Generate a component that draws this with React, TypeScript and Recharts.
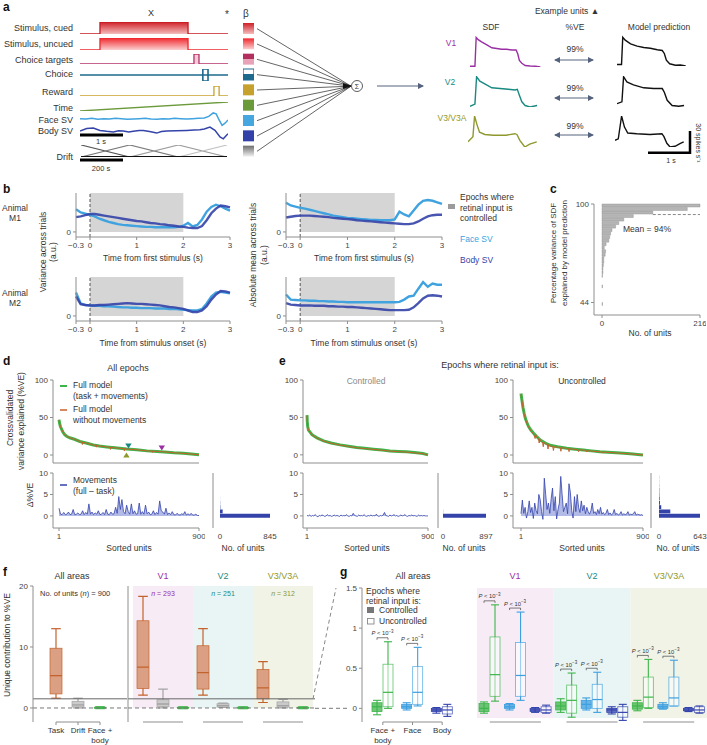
import React from 'react';
import {
  ComposedChart,
  LineChart,
  BarChart,
  Line,
  Area,
  Bar,
  Scatter,
  Cell,
  XAxis,
  YAxis,
  ReferenceArea,
  ReferenceLine,
} from 'recharts';

const FONT = '"Liberation Sans", Arial, sans-serif';
const INK = '#333';
const AXIS = '#8e8e8e';
const FACE = '#40a3df';
const BODY = '#3443a9';
const GREEN = '#3db54a';
const ORANGE = '#c8602b';
const V1C = '#9a2fa4';
const V2C = '#198a81';
const V3C = '#8f982d';
const tick8 = { fontSize: 8, fill: '#444', fontFamily: FONT };
const minus = (v: number) => String(v).replace('-', '\u2212');

// ---- panel a: regressors ----
const regressors = ['Stimulus, cued', 'Stimulus, uncued', 'Choice targets', 'Choice', 'Reward', 'Time', 'Face SV', 'Body SV', 'Drift'];
const stimT = [0, 13.5, 13.5, 73, 73, 100];
const stimV = [0, 0, 1, 1, 0, 0];
const targetT = [0, 77, 77, 80.4, 80.4, 100];
const targetV = [0, 0, 1, 1, 0, 0];
const choiceT = [0, 83, 83, 86.5, 86.5, 83, 83, 86.5, 100];
const choiceV = [0.5, 0.5, 1, 1, 0, 0, 0.5, 0.5, 0.5];
const rewardT = [0, 90.5, 90.5, 94, 94, 100];
const rewardV = [0, 0, 1, 1, 0, 0];
const timeT = [0, 100];
const timeV = [0, 1];
const faceT = [0, 4, 8, 12, 16, 20, 24, 28, 32, 36, 40, 44, 48, 52, 56, 60, 64, 68, 72, 76, 80, 84, 87, 90, 92, 94, 96, 98, 100];
const faceV = [0.1, 0, 0.2, -0.1, 0.1, 0, 0.2, 0.1, -0.1, 0, 0.1, 0.2, 0, -0.1, 0.1, 0, 0.2, 0.1, 0, 0.1, 0.2, 0.3, 0.8, 1.9, 1.6, -0.3, -2.0, -1.3, -0.3];
const bodyT = [0, 4.5, 9, 13.5, 18, 22.5, 26, 29.3, 33, 36, 40, 42.8, 47, 51.8, 55, 58.6, 65, 72, 77, 81, 84, 87.8, 91.2, 94.6, 96.8, 100];
const bodyV = [0, 0.8, 1.0, 0.2, -0.1, -0.3, 0.1, 0, -0.3, -0.1, 0.2, 0.2, -0.2, -0.7, -0.2, 0, 0.1, 0.2, 0.3, 0.4, 0.7, 1.3, 0.2, -2.0, -2.6, -0.9];
const driftNodes = [0, 1, 2, 3];
const driftBasis = [
  [1, 0, 0, 0],
  [0, 1, 0, 0],
  [0, 0, 1, 0],
  [0, 0, 0, 1],
];
const driftColors = ['#555', '#7a7a7a', '#9d9d9d', '#c2c2c2'];
const betaFills = ['url(#gCued)', 'url(#gUncued)', 'url(#gTarget)', 'url(#gChoice)', '#c6a12e', '#6a9a3a', '#46a6e0', '#3342a8', 'url(#gDrift)'];
const sumNode = 3.75;

// example units (time in s, rate in spikes/s)
const v1SdfT = [0, 0.12, 0.15, 0.2, 0.28, 0.41, 0.53, 0.65, 0.77, 0.89, 1.02, 1.12, 1.16, 1.2, 1.26, 1.34, 1.46, 1.59, 1.71];
const v1SdfV = [1, 1, 40, 37, 34, 30, 26, 25, 24, 24, 23, 23, 18, 9, 5, 2, 1.4, 1, 0];
const v1ModT = [0, 0.11, 0.14, 0.2, 0.33, 0.49, 0.65, 0.81, 0.98, 1.1, 1.15, 1.2, 1.28, 1.42, 1.54, 1.67];
const v1ModV = [2, 2, 39, 35, 30, 27, 25, 24, 22, 21, 17, 8, 3, 1, 1.4, 0];
const v2SdfT = [0, 0.12, 0.16, 0.24, 0.37, 0.53, 0.73, 0.93, 1.1, 1.15, 1.2, 1.26, 1.34, 1.46, 1.63];
const v2SdfV = [1, 4, 41, 35, 31, 26, 25, 24, 23, 24, 16, 7, 2, 0, 2];
const v2ModT = [0, 0.12, 0.16, 0.24, 0.4, 0.65, 0.89, 1.1, 1.15, 1.22, 1.34, 1.5, 1.63];
const v2ModV = [4.5, 7, 41, 34, 30, 26, 25, 25, 20, 9, 2, 1, 2];
const v3SdfT = [0, 0.12, 0.16, 0.22, 0.28, 0.41, 0.61, 0.93, 1.14, 1.19, 1.26, 1.38, 1.5, 1.67];
const v3SdfV = [7, 14, 42, 30, 20, 17, 16, 16, 18, 17, 9, 0, 4, 7];
const v3ModT = [0, 0.08, 0.16, 0.23, 0.31, 0.53, 0.85, 1.14, 1.19, 1.26, 1.34, 1.46, 1.59, 1.67];
const v3ModV = [9, 11, 42, 27, 19, 18, 17, 18, 14, 5, 0, 1, 5, 7];

// ---- panel b ----
const bTimes = [-0.3, -0.2, -0.1, 0, 0.1, 0.2, 0.3, 0.4, 0.5, 0.6, 0.7, 0.8, 0.9, 1.0, 1.1, 1.2, 1.3, 1.4, 1.5, 1.6, 1.7, 1.8, 1.9, 2.0, 2.1, 2.2, 2.3, 2.4, 2.5, 2.6, 2.7, 2.8, 2.9, 3.0];
const m1VarFace = [0.58, 0.5, 0.47, 0.44, 0.4, 0.34, 0.3, 0.26, 0.23, 0.2, 0.18, 0.17, 0.16, 0.15, 0.14, 0.13, 0.13, 0.12, 0.12, 0.12, 0.12, 0.12, 0.13, 0.16, 0.23, 0.14, 0.18, 0.32, 0.52, 0.64, 0.7, 0.66, 0.6, 0.55];
const m1VarBody = [0.38, 0.4, 0.43, 0.46, 0.46, 0.44, 0.42, 0.4, 0.38, 0.36, 0.34, 0.32, 0.3, 0.28, 0.27, 0.25, 0.23, 0.22, 0.2, 0.19, 0.17, 0.16, 0.14, 0.13, 0.11, 0.1, 0.1, 0.15, 0.3, 0.48, 0.6, 0.68, 0.66, 0.63];
const m1MeanFace = [0.75, 0.68, 0.65, 0.62, 0.6, 0.57, 0.54, 0.51, 0.48, 0.45, 0.42, 0.4, 0.38, 0.36, 0.35, 0.34, 0.33, 0.32, 0.31, 0.31, 0.3, 0.3, 0.3, 0.32, 0.52, 0.45, 0.4, 0.55, 0.7, 0.8, 0.82, 0.8, 0.76, 0.72];
const m1MeanBody = [0.37, 0.39, 0.41, 0.42, 0.42, 0.42, 0.41, 0.4, 0.39, 0.38, 0.36, 0.35, 0.34, 0.33, 0.32, 0.3, 0.29, 0.28, 0.27, 0.26, 0.25, 0.24, 0.23, 0.22, 0.21, 0.2, 0.2, 0.22, 0.27, 0.34, 0.4, 0.43, 0.44, 0.44];
const m2VarFace = [0.6, 0.32, 0.28, 0.27, 0.26, 0.26, 0.25, 0.25, 0.24, 0.23, 0.22, 0.22, 0.21, 0.21, 0.2, 0.2, 0.2, 0.19, 0.19, 0.19, 0.18, 0.18, 0.17, 0.16, 0.15, 0.14, 0.14, 0.18, 0.32, 0.5, 0.6, 0.62, 0.6, 0.58];
const m2VarBody = [0.5, 0.3, 0.28, 0.27, 0.27, 0.28, 0.28, 0.29, 0.3, 0.31, 0.32, 0.33, 0.32, 0.31, 0.31, 0.3, 0.29, 0.28, 0.27, 0.25, 0.23, 0.22, 0.2, 0.18, 0.14, 0.1, 0.1, 0.14, 0.25, 0.42, 0.55, 0.64, 0.63, 0.6];
const m2MeanFace = [0.55, 0.42, 0.41, 0.4, 0.4, 0.39, 0.39, 0.38, 0.38, 0.37, 0.37, 0.36, 0.36, 0.35, 0.35, 0.35, 0.35, 0.35, 0.35, 0.35, 0.35, 0.35, 0.35, 0.35, 0.36, 0.42, 0.5, 0.52, 0.7, 0.87, 0.75, 0.83, 0.8, 0.8];
const m2MeanBody = [0.33, 0.29, 0.28, 0.27, 0.27, 0.27, 0.26, 0.26, 0.26, 0.25, 0.25, 0.24, 0.24, 0.23, 0.23, 0.22, 0.21, 0.2, 0.19, 0.18, 0.17, 0.16, 0.15, 0.15, 0.15, 0.15, 0.16, 0.22, 0.33, 0.45, 0.52, 0.53, 0.52, 0.5];

// ---- panel c ----
const cBins = [99, 97, 95, 93, 91, 89, 87, 85, 83, 81, 79, 77, 75, 73, 71, 69, 67, 65, 63, 61, 59, 57, 55, 53, 51, 49, 47, 45, 43];
const cCounts = [216, 188, 112, 69, 48, 37, 30, 22, 19, 17, 15, 9, 5, 8, 7, 4, 4, 3, 2, 2, 1, 0, 0, 1, 0, 0, 0, 0, 1];

// ---- panels d, e ----
const dGreenU = [1, 5, 10, 16, 25, 38, 50, 70, 100, 135, 175, 221, 260, 307, 360, 436, 500, 566, 630, 700, 738, 800, 850, 900];
const dGreenV = [47, 42, 38, 35, 31, 27, 25, 23, 21, 18, 16, 13.3, 12, 10.8, 9.6, 8, 7, 5.5, 4.8, 3.8, 3, 2.2, 1.3, 0.3];
const dOrangeU = [1, 5, 10, 16, 25, 38, 50, 70, 100, 135, 150, 151, 152, 175, 221, 240, 241, 242, 260, 307, 330, 331, 332, 360, 420, 421, 422, 436, 500, 566, 600, 601, 602, 630, 700, 738, 800, 850, 900];
const dOrangeV = [47, 42, 38, 35, 31, 27, 25, 23, 21, 18, 17, 14, 17, 16, 13.3, 12.8, 10.5, 12.8, 12, 10.8, 10.2, 7.5, 10.2, 9.6, 8.3, 5.5, 8.3, 8, 7, 5.5, 5.2, 3.5, 5.2, 4.8, 3.8, 3, 2.2, 1.3, 0.3];
const ecGreenU = [1, 3, 6, 12, 21, 38, 75, 124, 180, 247, 310, 370, 430, 494, 560, 617, 680, 740, 800, 863, 900];
const ecGreenV = [53, 45, 38, 33, 31, 27, 22.7, 18.7, 15.8, 13.3, 11.5, 9.8, 8.7, 7.6, 6.4, 5.3, 4.6, 4, 3, 1.8, 0];
const ecOrangeV = [52.5, 44.6, 37.7, 32.7, 30.7, 26.7, 22.4, 18.4, 15.5, 13, 11.2, 9.5, 8.4, 7.3, 6.1, 5, 4.3, 3.7, 2.7, 1.5, -0.2];
const euGreenU = [1, 8, 16, 25, 33, 45, 57, 75, 94, 115, 143, 180, 216, 270, 338, 400, 460, 520, 582, 640, 705, 760, 827, 860, 900];
const euGreenV = [82, 73, 63, 55, 49, 43, 38, 33, 29, 25, 20, 16, 13, 11, 9, 7.8, 6.7, 5.5, 4.4, 3.7, 3, 2.2, 1.3, 0.8, 0];
const euOrangeU = [1, 8, 16, 25, 33, 45, 57, 75, 94, 105, 110, 115, 130, 135, 140, 143, 160, 165, 170, 180, 195, 200, 205, 216, 235, 240, 245, 270, 290, 295, 300, 338, 350, 355, 360, 400, 420, 425, 430, 460, 480, 485, 490, 520, 582, 600, 605, 610, 640, 705, 760, 827, 860, 900];
const euOrangeV = [81, 72, 62, 54, 48, 42, 37, 32, 28, 22, 27, 24, 22, 16, 21, 19, 17, 11, 17, 15, 14, 8, 14, 12, 11.5, 6, 11, 10.5, 10, 5, 9.8, 8.8, 8.5, 4.5, 8.3, 7.5, 7.2, 4.5, 7, 6.5, 6.2, 4, 6, 5.3, 4.2, 4, 2.5, 3.9, 3.5, 2.8, 2, 1.2, 0.7, 0];
const dMarkers = [
  { u: 447, v: 12, area: 'V2' },
  { u: 661, v: 9.3, area: 'V1' },
  { u: 434, v: 0, area: 'V3' },
];
const dDelta = [1.8, 0.4, 0.3, 0.8, 0.3, 0.4, 0.9, 0.3, 0.4, 1.5, 0.3, 0.4, 0.7, 0.3, 0.4, 1.2, 0.3, 0.8, 0.4, 2.8, 0.4, 0.9, 0.3, 0.7, 0.4, 1.2, 0.3, 0.4, 0.8, 0.3, 1.5, 0.4, 0.3, 0.9, 0.4, 0.5, 2.0, 0.6, 4.5, 1.5, 3.8, 1.0, 0.5, 2.5, 1.0, 0.4, 2.8, 0.5, 1.2, 0.4, 0.5, 3.0, 0.4, 1.0, 0.4, 2.5, 0.5, 0.9, 0.3, 0.4, 1.2, 0.3, 0.8, 0.4, 3.5, 1.2, 0.9, 0.4, 1.8, 0.3, 0.7, 0.3, 1.0, 0.3, 0.2, 0.6, 0.3, 0.2, 0.5, 0.3, 1.0, 0.2, 0.5, 0.2, 0.6, 0.2, 0.2, 0.4, 0.1, 0.1];
const ecDelta = [0.1, 0, 0.2, -0.1, 0.1, 0, 0.3, 0, -0.2, 0.1, 0, 0.2, 0.1, -0.1, 0, 0.3, 0, 0.1, -0.1, 0, 0.2, 0, 0.1, 0, -0.1, 0.2, 0, 0.1, 0, 0.3, 0, -0.1, 0.1, 0, 0.6, 0.1, 0, -0.1, 0.2, 0, 0.1, 0, 0.3, 0, -0.1, 0.1, 0, 0.2, 0, 0.1, 0, 0.4, 0, -0.1, 0.1, 0, 0.2, 0.8, 0.1, 0, -0.1, 0.2, 0, 0.1, 0.3, 0, 0.1, -0.1, 0, 0.2, 0, 0.1, 0.3, 0, -0.1, 0.1, 0, 0.2, 0, 0.1, 0, -0.1, 0.2, 0, 0.1, 0, 0.1, 0, 0, 0];
const euDelta = [0.5, 3.7, 0.6, 2.0, -0.5, 1.0, 3.5, 0.8, 2.0, -0.6, 3.0, 1.2, 0.5, 5.0, 3.8, 1.0, -0.8, 8.8, 5.0, 1.5, 3.0, 0.6, 4.0, 6.5, 1.2, 4.5, -0.7, 1.5, 3.0, 9.2, 5.0, 1.0, 2.0, 3.0, 0.5, 7.5, 5.5, 1.2, -0.5, 4.5, 1.0, 5.0, 2.0, 0.8, 3.5, 1.2, 2.5, 0.5, 2.0, 1.0, 0.4, 1.2, 3.0, 0.6, 1.0, 0.3, 1.5, 0.5, 2.0, 0.4, 0.8, 0.3, 0.6, 1.5, 0.3, 0.7, 0.2, 0.5, 1.5, 0.3, 0.6, 0.2, 0.4, 1.0, 0.2, 0.5, 0.3, 0.4, 1.0, 0.2, 0.4, 0.3, 0.5, 1.0, 0.2, 0.4, 0.3, 0.2, 0.3, 0.1];
const dHistBins = [0, 1, 2, 3, 4];
const dHistCounts = [845, 45, 6, 3, 1];
const ecHistBins = [0, 1];
const ecHistCounts = [897, 3];
const euHistBins = [0, 1, 2, 3, 4, 5, 6, 7, 8, 9];
const euHistCounts = [643, 177, 35, 15, 10, 6, 5, 3, 2, 2];

// ---- panel f (wl, q1, median, q3, wh) ----
const fKinds = ['task', 'drift', 'fb'];
const fLeftNames = ['Task', 'Drift', 'Face + body'];
const fLeftStats = [[1.6, 2.3, 5.3, 9.8, 13.0], [0, 0.15, 0.5, 1.1, 1.6], [-0.1, -0.05, 0.05, 0.15, 0.2]];
const fAreaNames = ['V1 Task', 'V1 Drift', 'V1 FB', 'V2 Task', 'V2 Drift', 'V2 FB', 'V3 Task', 'V3 Drift', 'V3 FB'];
const fAreaStats = [
  [2.1, 3.2, 6.7, 14.3, 18.3], [0, 0.25, 0.65, 1.35, 3.1], [-0.1, -0.05, 0.05, 0.15, 0.2],
  [2.1, 3.1, 5.8, 10.2, 13.0], [0.1, 0.15, 0.4, 0.7, 0.8], [-0.1, -0.05, 0.05, 0.15, 0.2],
  [0.9, 1.5, 3.3, 6.3, 7.6], [0, 0.15, 0.4, 1.0, 1.4], [-0.1, -0.05, 0.05, 0.15, 0.2],
];

// ---- panel g ----
const gKinds = ['fb', 'face', 'body'];
const gLeftNames = ['Face + body', 'Face', 'Body'];
const gLeftCtrl = [[-0.08, -0.04, 0.02, 0.07, 0.1], [-0.02, 0, 0.02, 0.05, 0.07], [-0.06, -0.04, -0.02, 0, 0.01]];
const gLeftUnctrl = [[0, 0.02, 0.2, 0.55, 0.83], [0.03, 0.05, 0.2, 0.52, 0.76], [-0.1, -0.07, -0.02, 0.02, 0.05]];
const gLeftSig = [true, true, false];
const gAreaNames = ['V1 FB', 'V1 Face', 'V1 Body', 'V2 FB', 'V2 Face', 'V2 Body', 'V3 FB', 'V3 Face', 'V3 Body'];
const gAreaCtrl = [
  [-0.06, -0.04, 0, 0.06, 0.08], [-0.02, 0, 0.02, 0.05, 0.06], [-0.05, -0.04, -0.02, 0, 0.01],
  [-0.05, -0.02, 0.03, 0.08, 0.12], [-0.02, 0, 0.05, 0.1, 0.13], [-0.07, -0.05, -0.02, 0, 0.02],
  [-0.03, -0.01, 0.03, 0.07, 0.1], [-0.01, 0, 0.02, 0.05, 0.07], [-0.04, -0.03, -0.02, 0, 0.01],
];
const gAreaUnctrl = [
  [0.09, 0.15, 0.42, 0.89, 1.29], [0.1, 0.15, 0.41, 0.82, 1.2], [-0.06, -0.05, -0.02, 0.02, 0.04],
  [-0.11, -0.06, 0.1, 0.29, 0.44], [-0.05, 0, 0.11, 0.3, 0.45], [-0.15, -0.11, -0.05, 0.02, 0.05],
  [0, 0.01, 0.14, 0.39, 0.61], [0.03, 0.03, 0.13, 0.39, 0.6], [-0.06, -0.05, -0.02, 0.02, 0.03],
];
const gAreaSig = [true, true, false, true, true, false, true, true, false];

const fStyle: Record<string, { stroke: string; fill: string }> = {
  task: { stroke: '#c4622c', fill: '#dba083' },
  drift: { stroke: '#a3a3a3', fill: '#cacaca' },
  fb: { stroke: GREEN, fill: '#6cc878' },
};
const gColor: Record<string, string> = { fb: GREEN, face: '#3c9fe0', body: '#3444ad' };
const tickText: Record<string, string> = { Task: 'Task', Drift: 'Drift', 'Face + body': 'Face +\nbody', Face: 'Face', Body: 'Body' };

const pairs = (t: number[], v: number[]) => t.map((tt, i) => ({ t: tt, v: v[i] }));
const uv = (u: number[], v: number[]) => u.map((uu, i) => ({ u: uu, v: v[i] }));
const ranked = (vals: number[]) => vals.map((v, i) => ({ u: 1 + (i * 899) / (vals.length - 1), v }));

const at = (left: number, top: number, node: React.ReactNode) => (
  <div style={{ position: 'absolute', left, top }}>{node}</div>
);
const M0 = { top: 0, right: 0, bottom: 0, left: 0 };

function Trace({ left, top, w, h, t, v, color, y, fill, sw = 1.3 }: any) {
  return at(left, top,
    <ComposedChart width={w} height={h} data={pairs(t, v)} margin={M0}>
      <XAxis type="number" dataKey="t" domain={[0, 100]} hide />
      <YAxis type="number" domain={y} hide />
      {fill ? (
        <Area type="linear" dataKey="v" stroke={color} strokeWidth={sw} fill={fill} fillOpacity={1} isAnimationActive={false} />
      ) : (
        <Line type="linear" dataKey="v" stroke={color} strokeWidth={sw} dot={false} isAnimationActive={false} />
      )}
    </ComposedChart>
  );
}

function Unit({ left, top, t, v, color }: any) {
  return at(left, top,
    <LineChart width={72} height={31} data={pairs(t, v)} margin={M0}>
      <XAxis type="number" dataKey="t" domain={[0, 1.75]} hide />
      <YAxis type="number" domain={[0, 42]} hide />
      <Line type="linear" dataKey="v" stroke={color} strokeWidth={1.4} dot={false} isAnimationActive={false} />
    </LineChart>
  );
}

function PanelA() {
  const driftData = driftNodes.map((n, i) => {
    const row: any = { n, base: 0 };
    driftBasis.forEach((b, k) => (row['b' + k] = b[i]));
    return row;
  });
  const betaData = regressors.map((name) => ({ name, w: 1 }));
  const fanData = [0, 1].map((x) => {
    const row: any = { x };
    regressors.forEach((_, i) => (row['r' + i] = x === 0 ? i : sumNode));
    return row;
  });
  return (
    <>
      <Trace left={80} top={22} w={148} h={12} t={stimT} v={stimV} y={[0, 1]} color="#c41c24" fill="url(#gCued)" />
      <Trace left={80} top={38} w={148} h={12} t={stimT} v={stimV} y={[0, 1]} color="#ee2a30" fill="url(#gUncued)" />
      <Trace left={80} top={54} w={148} h={10} t={targetT} v={targetV} y={[0, 1]} color="#b5336a" fill="#f4cbd8" />
      <Trace left={80} top={69} w={148} h={12} t={choiceT} v={choiceV} y={[0, 1]} color="#1d6a8d" sw={1.6} />
      <Trace left={80} top={86} w={148} h={10} t={rewardT} v={rewardV} y={[0, 1]} color="#c8a12c" />
      <Trace left={80} top={102} w={148} h={9} t={timeT} v={timeV} y={[0, 1]} color="#6b9a3b" />
      <Trace left={80} top={111} w={148} h={16} t={faceT} v={faceV} y={[-2.5, 2.5]} color={FACE} sw={1.5} />
      <Trace left={80} top={122} w={148} h={18} t={bodyT} v={bodyV} y={[-3, 3]} color={BODY} sw={1.5} />
      {at(81, 145,
        <LineChart width={146} height={12} data={driftData} margin={M0}>
          <XAxis type="number" dataKey="n" domain={[0, 3]} hide />
          <YAxis type="number" domain={[0, 1]} hide />
          {driftBasis.map((_, k) => (
            <Line key={k} dataKey={'b' + k} stroke={driftColors[k]} strokeWidth={1.2} dot={false} isAnimationActive={false} />
          ))}
          <Line dataKey="base" stroke="#111" strokeWidth={2} dot={false} isAnimationActive={false} />
        </LineChart>
      )}
      {at(243, 21,
        <BarChart layout="vertical" width={11} height={138} data={betaData} margin={M0} barCategoryGap={2}>
          <XAxis type="number" domain={[0, 1]} hide />
          <YAxis type="category" dataKey="name" hide />
          <Bar dataKey="w" isAnimationActive={false}>
            {betaData.map((_, i) => (
              <Cell key={i} fill={betaFills[i]} stroke={i === 3 ? '#1d6a8d' : 'none'} strokeWidth={1.2} />
            ))}
          </Bar>
        </BarChart>
      )}
      {at(257, 21,
        <LineChart width={94} height={138} data={fanData} margin={M0}>
          <XAxis type="number" dataKey="x" domain={[0, 1]} hide />
          <YAxis type="number" domain={[-0.5, 8.5]} reversed hide />
          {regressors.map((_, i) => (
            <Line key={i} dataKey={'r' + i} stroke="#222" strokeWidth={0.7} dot={false} isAnimationActive={false} />
          ))}
        </LineChart>
      )}
      <Unit left={470} top={36} t={v1SdfT} v={v1SdfV} color={V1C} />
      <Unit left={617} top={35} t={v1ModT} v={v1ModV} color="#111" />
      <Unit left={470} top={76} t={v2SdfT} v={v2SdfV} color={V2C} />
      <Unit left={617} top={76} t={v2ModT} v={v2ModV} color="#111" />
      <Unit left={468} top={116} t={v3SdfT} v={v3SdfV} color={V3C} />
      <Unit left={615} top={116} t={v3ModT} v={v3ModV} color="#111" />
    </>
  );
}

function Course({ left, top, face, body, plotW }: any) {
  const data = bTimes.map((t, i) => ({ t, face: face[i], body: body[i] }));
  return at(left, top,
    <LineChart width={14 + plotW + 5} height={60} data={data} margin={{ top: 0, right: 5, bottom: 0, left: 0 }}>
      <ReferenceArea x1={0} x2={2} y1={0} y2={1} fill="#d5d5d5" fillOpacity={1} stroke="none" />
      <XAxis type="number" dataKey="t" domain={[-0.3, 3]} ticks={[-0.3, 0, 1, 2, 3]} interval={0} tickFormatter={minus} tick={tick8} stroke={AXIS} tickSize={3} height={16} />
      <YAxis type="number" domain={[-0.13, 1]} ticks={[0]} tick={tick8} stroke={AXIS} tickSize={3} width={14} />
      <ReferenceLine x={0} stroke="#555" strokeDasharray="3 2" />
      <Line dataKey="face" stroke={FACE} strokeWidth={2.4} dot={false} isAnimationActive={false} />
      <Line dataKey="body" stroke={BODY} strokeWidth={2.4} strokeOpacity={0.9} dot={false} isAnimationActive={false} />
    </LineChart>
  );
}

function PanelB() {
  return (
    <>
      <Course left={62} top={193} face={m1VarFace} body={m1VarBody} plotW={154} />
      <Course left={272} top={193} face={m1MeanFace} body={m1MeanBody} plotW={156} />
      <Course left={62} top={277} face={m2VarFace} body={m2VarBody} plotW={154} />
      <Course left={272} top={277} face={m2MeanFace} body={m2MeanBody} plotW={156} />
    </>
  );
}

function PanelC() {
  const data = cBins.map((bin, i) => ({ bin, n: cCounts[i] }));
  return at(572, 200,
    <BarChart layout="vertical" width={134} height={135} data={data} margin={{ top: 4, right: 6, bottom: 0, left: 0 }}>
      <XAxis type="number" domain={[0, 216]} ticks={[0, 216]} padding={{ left: 8, right: 0 }} tick={tick8} stroke={AXIS} tickSize={3} height={20} />
      <YAxis type="number" dataKey="bin" domain={[42, 100]} ticks={[44, 100]} reversed padding={{ top: 0, bottom: 9 }} tick={tick8} stroke={AXIS} tickSize={3} width={22} />
      <ReferenceLine segment={[{ x: 112, y: 94 }, { x: 216, y: 94 }]} stroke="#888" strokeDasharray="3 2" />
      <Bar dataKey="n" barSize={3} fill="#b5b5b5" stroke="#8c8c8c" strokeWidth={0.4} isAnimationActive={false} />
    </BarChart>
  );
}

const Marker = (p: any) => {
  const { cx, cy, payload } = p;
  const c = payload.area === 'V1' ? V1C : payload.area === 'V2' ? V2C : V3C;
  const s = 3.2;
  const pts = payload.area === 'V3'
    ? `${cx - s},${cy + s * 0.8} ${cx + s},${cy + s * 0.8} ${cx},${cy - s * 0.8}`
    : `${cx - s},${cy - s * 0.8} ${cx + s},${cy - s * 0.8} ${cx},${cy + s * 0.8}`;
  return <polygon points={pts} fill={c} />;
};

function Sorted({ left, plotW, pad, green, orange, markers }: any) {
  return at(left, 376,
    <ComposedChart width={20 + plotW + 3} height={91} margin={{ top: 4, right: 3, bottom: 0, left: 0 }}>
      <XAxis type="number" dataKey="u" domain={[1, 900]} ticks={[1, 900]} tick={false} padding={{ left: pad, right: 0 }} stroke={AXIS} tickSize={3} height={4} />
      <YAxis type="number" domain={[0, 100]} ticks={[0, 50, 100]} padding={{ top: 0, bottom: 8 }} tick={tick8} stroke={AXIS} tickSize={3} width={20} />
      <Line data={green} dataKey="v" stroke={GREEN} strokeWidth={3} dot={false} isAnimationActive={false} />
      <Line data={orange} dataKey="v" stroke={ORANGE} strokeWidth={1} dot={false} isAnimationActive={false} />
      {markers && <Scatter data={markers} dataKey="v" shape={Marker} isAnimationActive={false} />}
    </ComposedChart>
  );
}

function Delta({ left, plotW, pad, vals }: any) {
  return at(left, 469,
    <ComposedChart width={20 + plotW + 6} height={75} data={ranked(vals)} margin={{ top: 4, right: 6, bottom: 0, left: 0 }}>
      <XAxis type="number" dataKey="u" domain={[1, 900]} ticks={[1, 900]} padding={{ left: pad, right: 0 }} tick={tick8} stroke={AXIS} tickSize={3} height={16} />
      <YAxis type="number" domain={[-2, 10]} ticks={[-2, 0, 5, 10]} tickFormatter={minus} padding={{ top: 0, bottom: 3.5 }} tick={tick8} stroke={AXIS} tickSize={3} width={20} />
      <Area dataKey="v" type="linear" stroke={BODY} strokeWidth={0.8} fill="#7f8cd8" fillOpacity={0.6} isAnimationActive={false} />
    </ComposedChart>
  );
}

function Hist({ left, plotW, pad, bins, counts, right = 9 }: any) {
  const data = bins.map((bin: number, i: number) => ({ bin, n: counts[i] }));
  const max = counts[0];
  return at(left, 469,
    <BarChart layout="vertical" width={3 + plotW + right} height={75} data={data} margin={{ top: 4, right, bottom: 0, left: 0 }}>
      <XAxis type="number" domain={[0, max]} ticks={[0, max]} padding={{ left: pad, right: 0 }} axisLine={false} tickLine={false} tickSize={3} tick={tick8} height={16} />
      <YAxis type="number" dataKey="bin" domain={[-2, 10]} ticks={[-2, 0, 5, 10]} reversed tick={false} padding={{ top: 0, bottom: 3.5 }} stroke={AXIS} tickSize={3} width={3} />
      <Bar dataKey="n" barSize={4.3} fill={BODY} isAnimationActive={false} />
    </BarChart>
  );
}

function PanelDE() {
  return (
    <>
      <Sorted left={33} plotW={146} pad={6} green={uv(dGreenU, dGreenV)} orange={uv(dOrangeU, dOrangeV)} markers={dMarkers} />
      <Delta left={33} plotW={146} pad={6} vals={dDelta} />
      <Hist left={210} plotW={57} pad={7} bins={dHistBins} counts={dHistCounts} />
      <Sorted left={283} plotW={125} pad={4} green={uv(ecGreenU, ecGreenV)} orange={uv(ecGreenU, ecOrangeV)} />
      <Delta left={283} plotW={125} pad={4} vals={ecDelta} />
      <Hist left={435} plotW={48} pad={5} bins={ecHistBins} counts={ecHistCounts} />
      <Sorted left={493} plotW={130} pad={8} green={uv(euGreenU, euGreenV)} orange={uv(euOrangeU, euOrangeV)} />
      <Delta left={493} plotW={130} pad={8} vals={euDelta} />
      <Hist left={648} plotW={49} pad={8} bins={euHistBins} counts={euHistCounts} right={9} />
    </>
  );
}

const StackTick = (props: any) => {
  const { x, y, payload } = props;
  const lines = String(tickText[payload.value] ?? '').split('\n');
  return (
    <text x={x} y={y + 6} textAnchor="middle" fontSize={8} fill={INK} fontFamily={FONT}>
      {lines.map((l, i) => (
        <tspan key={i} x={x} dy={i === 0 ? 0 : 10}>{l}</tspan>
      ))}
    </text>
  );
};

const FBox = (props: any) => {
  const { x, y, width, height, payload } = props;
  const [wl, q1, md, q3, wh] = payload.stats;
  const st = fStyle[payload.kind];
  const py = (v: number) => y + (height * (wh - v)) / (wh - wl);
  const cx = x + width / 2;
  const cap = width * 0.4;
  const top = py(q3);
  const bot = py(q1);
  return (
    <g>
      <line x1={cx} x2={cx} y1={py(wh)} y2={py(wl)} stroke={st.stroke} strokeWidth={1.2} />
      <line x1={cx - cap} x2={cx + cap} y1={py(wh)} y2={py(wh)} stroke={st.stroke} strokeWidth={1.2} />
      <line x1={cx - cap} x2={cx + cap} y1={py(wl)} y2={py(wl)} stroke={st.stroke} strokeWidth={1.2} />
      <rect x={x} y={top} width={width} height={Math.max(bot - top, 1.5)} rx={payload.kind === 'fb' ? 1.5 : 0} fill={st.fill} stroke={st.stroke} strokeWidth={0.7} />
      <line x1={x} x2={x + width} y1={py(md)} y2={py(md)} stroke={st.stroke} strokeWidth={1.3} />
    </g>
  );
};

const makeGBox = (which: 'ctrl' | 'unctrl') => (props: any) => {
  const { x, y, width, height, payload } = props;
  const [wl, q1, md, q3, wh] = payload[which];
  const c = gColor[payload.kind];
  const py = (v: number) => y + (height * (wh - v)) / (wh - wl);
  const cx = x + width / 2;
  const cap = width * 0.4;
  const top = py(q3);
  const bot = py(q1);
  const filled = which === 'ctrl';
  const by = py(wh) - 4;
  const lx = cx - width - 1;
  return (
    <g>
      <line x1={cx} x2={cx} y1={py(wh)} y2={py(wl)} stroke={c} strokeWidth={1.1} />
      <line x1={cx - cap} x2={cx + cap} y1={py(wh)} y2={py(wh)} stroke={c} strokeWidth={1.1} />
      <line x1={cx - cap} x2={cx + cap} y1={py(wl)} y2={py(wl)} stroke={c} strokeWidth={1.1} />
      <rect x={x} y={top} width={width} height={Math.max(bot - top, 1.5)} fill={filled ? c : '#fff'} fillOpacity={filled ? 0.75 : 0.5} stroke={c} strokeWidth={0.8} strokeOpacity={filled ? 1 : 0.8} />
      <line x1={x} x2={x + width} y1={py(md)} y2={py(md)} stroke={c} strokeWidth={1.2} />
      {!filled && payload.sig && (
        <g>
          <path d={`M${lx},${by + 2} V${by} H${cx} V${by + 2}`} stroke="#444" strokeWidth={0.7} fill="none" />
          <text x={(lx + cx) / 2} y={by - 2.5} textAnchor="middle" fontSize={5.8} fill={INK} fontFamily={FONT}>
            <tspan fontStyle="italic">P</tspan> {'< 10'}
            <tspan dy={-2.5} fontSize={4.5}>{'\u22123'}</tspan>
          </text>
        </g>
      )}
    </g>
  );
};
const GCtrl = makeGBox('ctrl');
const GUnctrl = makeGBox('unctrl');

function PanelF() {
  const left = fLeftNames.map((name, i) => ({ name, stats: fLeftStats[i], kind: fKinds[i] }));
  const right = fAreaNames.map((name, i) => ({ name, stats: fAreaStats[i], kind: fKinds[i % 3] }));
  const range = (d: any) => [d.stats[0], d.stats[4]];
  const areaFill = ['#f7ecf6', '#e9f4f4', '#f1f3e7'];
  return (
    <>
      {at(13, 582,
        <ComposedChart width={116} height={166} data={left} margin={{ top: 4, right: 2, bottom: 0, left: 0 }}>
          <XAxis dataKey="name" padding={{ left: 12, right: 16 }} axisLine={false} tickLine={{ stroke: AXIS }} tickSize={3} tick={StackTick} interval={0} height={26} />
          <YAxis type="number" domain={[-2.3, 20]} ticks={[0, 10, 20]} allowDataOverflow tick={tick8} stroke={AXIS} tickSize={3} width={20} />
          <ReferenceLine y={0} stroke="#777" strokeDasharray="4 3" />
          <ReferenceLine y={1.5} stroke="#666" />
          <ReferenceLine segment={[{ x: 'Task', y: -2.3 }, { x: 'Face + body', y: -2.3 }]} stroke={AXIS} />
          <Bar dataKey={range} barSize={12} shape={FBox} isAnimationActive={false} />
        </ComposedChart>
      )}
      {at(124, 582,
        <ComposedChart width={191} height={166} data={right} margin={{ top: 4, right: 0, bottom: 0, left: 0 }}>
          {[0, 1, 2].map((k) => (
            <ReferenceArea key={k} x1={fAreaNames[k * 3]} x2={fAreaNames[k * 3 + 2]} y1={0} y2={20} fill={areaFill[k]} fillOpacity={1} stroke="none" />
          ))}
          <XAxis dataKey="name" padding={{ left: 5, right: 2 }} axisLine={false} tickLine={{ stroke: AXIS }} tickSize={3} tick={false} interval={0} height={26} />
          <YAxis type="number" domain={[-2.3, 20]} ticks={[0, 10, 20]} allowDataOverflow tick={false} stroke={AXIS} tickSize={3} width={4} />
          <ReferenceLine y={0} stroke="#777" strokeDasharray="4 3" />
          <ReferenceLine y={1.5} stroke="#666" />
          {[0, 1, 2].map((k) => (
            <ReferenceLine key={k} segment={[{ x: fAreaNames[k * 3], y: -2.3 }, { x: fAreaNames[k * 3 + 2], y: -2.3 }]} stroke={AXIS} />
          ))}
          <Bar dataKey={range} barSize={12} shape={FBox} isAnimationActive={false} />
        </ComposedChart>
      )}
    </>
  );
}

function PanelG() {
  const left = gLeftNames.map((name, i) => ({ name, ctrl: gLeftCtrl[i], unctrl: gLeftUnctrl[i], kind: gKinds[i], sig: gLeftSig[i] }));
  const right = gAreaNames.map((name, i) => ({ name, ctrl: gAreaCtrl[i], unctrl: gAreaUnctrl[i], kind: gKinds[i % 3], sig: gAreaSig[i] }));
  const ctrl = (d: any) => [d.ctrl[0], d.ctrl[4]];
  const unctrl = (d: any) => [d.unctrl[0], d.unctrl[4]];
  const areaFill = ['#f7ecf6', '#e9f4f4', '#f1f3e7'];
  return (
    <>
      {at(340, 584,
        <ComposedChart width={120} height={164} data={left} barGap={1} margin={{ top: 4, right: 0, bottom: 0, left: 0 }}>
          <XAxis dataKey="name" padding={{ left: 6, right: 3 }} axisLine={false} tickLine={{ stroke: AXIS }} tickSize={3} tick={StackTick} interval={0} height={26} />
          <YAxis type="number" domain={[-0.17, 1.5]} ticks={[0, 0.5, 1, 1.5]} allowDataOverflow tick={tick8} stroke={AXIS} tickSize={3} width={22} />
          <ReferenceLine segment={[{ x: 'Face + body', y: -0.17 }, { x: 'Body', y: -0.17 }]} stroke={AXIS} />
          <Bar dataKey={ctrl} barSize={10} shape={GCtrl} isAnimationActive={false} />
          <Bar dataKey={unctrl} barSize={10} shape={GUnctrl} isAnimationActive={false} />
        </ComposedChart>
      )}
      {at(477, 584,
        <ComposedChart width={230} height={164} data={right} barGap={1} margin={{ top: 4, right: 0, bottom: 0, left: 0 }}>
          {[0, 1, 2].map((k) => (
            <ReferenceArea key={k} x1={gAreaNames[k * 3]} x2={gAreaNames[k * 3 + 2]} y1={-0.12} y2={1.5} fill={areaFill[k]} fillOpacity={1} stroke="none" />
          ))}
          <XAxis dataKey="name" axisLine={false} tickLine={{ stroke: AXIS }} tickSize={3} tick={false} interval={0} height={26} />
          <YAxis type="number" domain={[-0.17, 1.5]} allowDataOverflow hide />
          {[0, 1, 2].map((k) => (
            <ReferenceLine key={k} segment={[{ x: gAreaNames[k * 3], y: -0.17 }, { x: gAreaNames[k * 3 + 2], y: -0.17 }]} stroke={AXIS} />
          ))}
          <Bar dataKey={ctrl} barSize={10} shape={GCtrl} isAnimationActive={false} />
          <Bar dataKey={unctrl} barSize={10} shape={GUnctrl} isAnimationActive={false} />
        </ComposedChart>
      )}
    </>
  );
}

function Gradients() {
  return (
    <svg width={0} height={0} style={{ position: 'absolute' }}>
      <defs>
        <linearGradient id="gCued" x1="0" y1="0" x2="0" y2="1">
          <stop offset="0" stopColor="#cf1f27" />
          <stop offset="1" stopColor="#f4bcbc" />
        </linearGradient>
        <linearGradient id="gUncued" x1="0" y1="0" x2="0" y2="1">
          <stop offset="0" stopColor="#f0282e" />
          <stop offset="1" stopColor="#fbd0d0" />
        </linearGradient>
        <linearGradient id="gTarget" x1="0" y1="0" x2="0" y2="1">
          <stop offset="0" stopColor="#b3305e" />
          <stop offset="0.5" stopColor="#b3305e" />
          <stop offset="0.5" stopColor="#e9a3b9" />
          <stop offset="1" stopColor="#e9a3b9" />
        </linearGradient>
        <linearGradient id="gChoice" x1="0" y1="0" x2="0" y2="1">
          <stop offset="0" stopColor="#fff" />
          <stop offset="0.5" stopColor="#fff" />
          <stop offset="0.5" stopColor="#1d6a8d" />
          <stop offset="1" stopColor="#1d6a8d" />
        </linearGradient>
        <linearGradient id="gDrift" x1="0" y1="0" x2="0" y2="1">
          <stop offset="0" stopColor="#6e6e6e" />
          <stop offset="1" stopColor="#f2f2f2" />
        </linearGradient>
      </defs>
    </svg>
  );
}

const T = ({ x, y, s = 9, a = 'start', c = INK, r, w, it, children }: any) => (
  <text x={x} y={y} fontSize={s} textAnchor={a} fill={c} dominantBaseline="central" fontWeight={w} fontStyle={it ? 'italic' : undefined} transform={r ? `rotate(${r} ${x} ${y})` : undefined}>
    {children}
  </text>
);

function Overlay() {
  const rowY = [27.5, 43.5, 60, 74, 92, 108, 119.5, 130.5, 157];
  const letters: [string, number, number][] = [['a', 3, 7], ['b', 3, 189], ['c', 550, 189], ['d', 3, 361], ['e', 279, 361], ['f', 3, 572], ['g', 340, 572]];
  return (
    <svg width={707} height={745} style={{ position: 'absolute', left: 0, top: 0, pointerEvents: 'none' }} fontFamily={FONT}>
      <defs>
        <marker id="ah" viewBox="0 0 6 6" refX="5" refY="3" markerWidth="6" markerHeight="6" orient="auto-start-reverse">
          <path d="M0,0 L6,3 L0,6 z" fill="#55627e" />
        </marker>
      </defs>
      {letters.map(([l, x, y]) => (
        <T key={l} x={x} y={y} s={12} w="bold" c="#111">{l}</T>
      ))}
      {regressors.map((r, i) => (
        <T key={r} x={73} y={rowY[i]} s={9} a="end">{r}</T>
      ))}
      <line x1={80} x2={123} y1={135} y2={135} stroke="#000" strokeWidth={3} />
      <line x1={80} x2={123} y1={160} y2={160} stroke="#000" strokeWidth={3} />
      <T x={101} y={141.5} s={7.5} a="middle">1 s</T>
      <T x={101} y={168} s={7.5} a="middle">200 s</T>
      <T x={151} y={13} a="middle">X</T>
      <T x={227} y={14} s={10} a="middle">*</T>
      <T x={246} y={13} s={10} a="middle">β</T>
      <polygon points="343,83 351,86 343,89" fill="#111" />
      <circle cx={357} cy={86} r={5.5} fill="#fff" stroke="#333" strokeWidth={0.8} />
      <T x={357} y={86.5} s={7} a="middle">Σ</T>
      <line x1={377} x2={423} y1={86} y2={86} stroke="#55627e" strokeWidth={1.1} markerEnd="url(#ah)" />
      <T x={567} y={11} s={8.5} a="middle">Example units ▲</T>
      <T x={491} y={27} s={8.5} a="middle">SDF</T>
      <T x={575} y={27} s={8.5} a="middle">%VE</T>
      <T x={659} y={27} s={8.5} a="middle">Model prediction</T>
      <T x={451} y={43} s={8.5} a="middle" c={V1C}>V1</T>
      <T x={450} y={82} s={8.5} a="middle" c={V2C}>V2</T>
      <T x={452} y={118} s={8.5} a="middle" c={V3C}>V3/V3A</T>
      {[[49, 60], [88, 98], [126, 135]].map(([ty, ay]) => (
        <g key={ty}>
          <T x={575} y={ty} s={8.5} a="middle">99%</T>
          <line x1={555} x2={593} y1={ay} y2={ay} stroke="#55627e" strokeWidth={1} markerStart="url(#ah)" markerEnd="url(#ah)" />
        </g>
      ))}
      <line x1={690} x2={690} y1={131} y2={154} stroke="#000" strokeWidth={2.5} />
      <line x1={648} x2={691} y1={152.7} y2={152.7} stroke="#000" strokeWidth={2.5} />
      <T x={671} y={160} s={7} a="middle">1 s</T>
      <T x={698} y={143} s={7} a="middle" r={90}>30 spikes s⁻¹</T>

      <T x={15} y={208} s={8.5} a="middle">Animal</T>
      <T x={15} y={218} s={8.5} a="middle">M1</T>
      <T x={15} y={293} s={8.5} a="middle">Animal</T>
      <T x={15} y={303} s={8.5} a="middle">M2</T>
      <T x={43} y={252} s={8.5} a="middle" r={-90}>Variance across trials</T>
      <T x={53} y={252} s={8.5} a="middle" r={-90}>(a.u.)</T>
      <T x={253} y={255} s={8.5} a="middle" r={-90}>Absolute mean across trials</T>
      <T x={264} y={255} s={8.5} a="middle" r={-90}>(a.u.)</T>
      <T x={153} y={258} s={8.5} a="middle">Time from first stimulus (s)</T>
      <T x={153} y={343} s={8.5} a="middle">Time from stimulus onset (s)</T>
      <T x={364} y={258} s={8.5} a="middle">Time from first stimulus (s)</T>
      <T x={364} y={343} s={8.5} a="middle">Time from stimulus onset (s)</T>
      <rect x={448} y={204} width={7} height={5} fill="#9b9b9b" />
      <T x={460} y={197} s={8.5}>Epochs where</T>
      <T x={460} y={208} s={8.5}>retinal input is</T>
      <T x={460} y={218} s={8.5}>controlled</T>
      <T x={460} y={239} s={8.5} c={FACE}>Face SV</T>
      <T x={460} y={260} s={8.5} c={BODY}>Body SV</T>

      <T x={553} y={253} s={8} a="middle" r={-90}>Percentage variance of SDF</T>
      <T x={564} y={253} s={8} a="middle" r={-90}>explained by model prediction</T>
      <T x={623} y={229} s={8.5}>Mean = 94%</T>
      <T x={650} y={333} s={8.5} a="middle">No. of units</T>

      <T x={128} y={368} a="middle">All epochs</T>
      <line x1={60} x2={67} y1={386} y2={386} stroke={GREEN} strokeWidth={2} />
      <T x={73} y={385} s={8.5}>Full model</T>
      <T x={73} y={396} s={8.5}>(task + movements)</T>
      <line x1={60} x2={67} y1={410} y2={410} stroke={ORANGE} strokeWidth={1.5} />
      <T x={73} y={409} s={8.5}>Full model</T>
      <T x={73} y={420} s={8.5}>without movements</T>
      <line x1={60} x2={67} y1={485} y2={485} stroke={BODY} strokeWidth={1.5} />
      <T x={73} y={480} s={8.5}>Movements</T>
      <T x={73} y={491} s={8.5}>(full – task)</T>
      <T x={10} y={418} s={8.5} a="middle" r={-90}>Crossvalidated</T>
      <T x={21} y={421} s={8.5} a="middle" r={-90}>variance explained (%VE)</T>
      <T x={30} y={495} s={8.5} a="middle" r={-90}>Δ%VE</T>
      <T x={129} y={548} s={8.5} a="middle">Sorted units</T>
      <T x={243} y={548} s={8.5} a="middle">No. of units</T>
      <T x={500} y={365} a="middle">Epochs where retinal input is:</T>
      <T x={366} y={381} s={8.5} a="middle" c="#8a8a8a">Controlled</T>
      <T x={582} y={381} s={8.5} a="middle">Uncontrolled</T>
      <T x={367} y={548} s={8.5} a="middle">Sorted units</T>
      <T x={464} y={548} s={8.5} a="middle">No. of units</T>
      <T x={582} y={548} s={8.5} a="middle">Sorted units</T>
      <T x={678} y={548} s={8.5} a="middle">No. of units</T>

      <T x={72} y={576} a="middle">All areas</T>
      <T x={163} y={576} a="middle" c={V1C}>V1</T>
      <T x={223} y={576} a="middle" c={V2C}>V2</T>
      <T x={283} y={576} a="middle" c={V3C}>V3/V3A</T>
      <text x={40} y={593} fontSize={7.5} fill={INK} dominantBaseline="central">
        No. of units (<tspan fontStyle="italic">n</tspan>) = 900
      </text>
      {[[163, '293', V1C], [223, '251', V2C], [283, '312', V3C]].map(([x, n, c]) => (
        <text key={n as string} x={x as number} y={593} fontSize={7} fill={c as string} textAnchor="middle" dominantBaseline="central">
          <tspan fontStyle="italic">n</tspan> = {n}
        </text>
      ))}
      <T x={7} y={645} s={8.5} a="middle" r={-90}>Unique contribution to %VE</T>
      <line x1={315} x2={347} y1={708.3} y2={708.3} stroke="#777" strokeDasharray="4 3" />
      <line x1={313} x2={336} y1={699} y2={588} stroke="#888" strokeDasharray="4 3" />

      <T x={413} y={576} a="middle">All areas</T>
      <T x={515} y={576} a="middle" c={V1C}>V1</T>
      <T x={592} y={576} a="middle" c={V2C}>V2</T>
      <T x={669} y={576} a="middle" c={V3C}>V3/V3A</T>
      <T x={366} y={591} s={8.5}>Epochs where</T>
      <T x={366} y={601} s={8.5}>retinal input is:</T>
      <rect x={367} y={607} width={7} height={6} fill="#777" />
      <T x={379} y={610} s={8.5}>Controlled</T>
      <rect x={367.5} y={618.5} width={6.5} height={5.5} fill="none" stroke="#888" strokeWidth={0.9} />
      <T x={379} y={621} s={8.5}>Uncontrolled</T>
    </svg>
  );
}

export default function App() {
  return (
    <div style={{ position: 'absolute', left: 0, top: 0, width: 707, height: 745, background: '#fff', fontFamily: FONT, overflow: 'hidden' }}>
      <Gradients />
      <PanelA />
      <PanelB />
      <PanelC />
      <PanelDE />
      <PanelF />
      <PanelG />
      <Overlay />
    </div>
  );
}
